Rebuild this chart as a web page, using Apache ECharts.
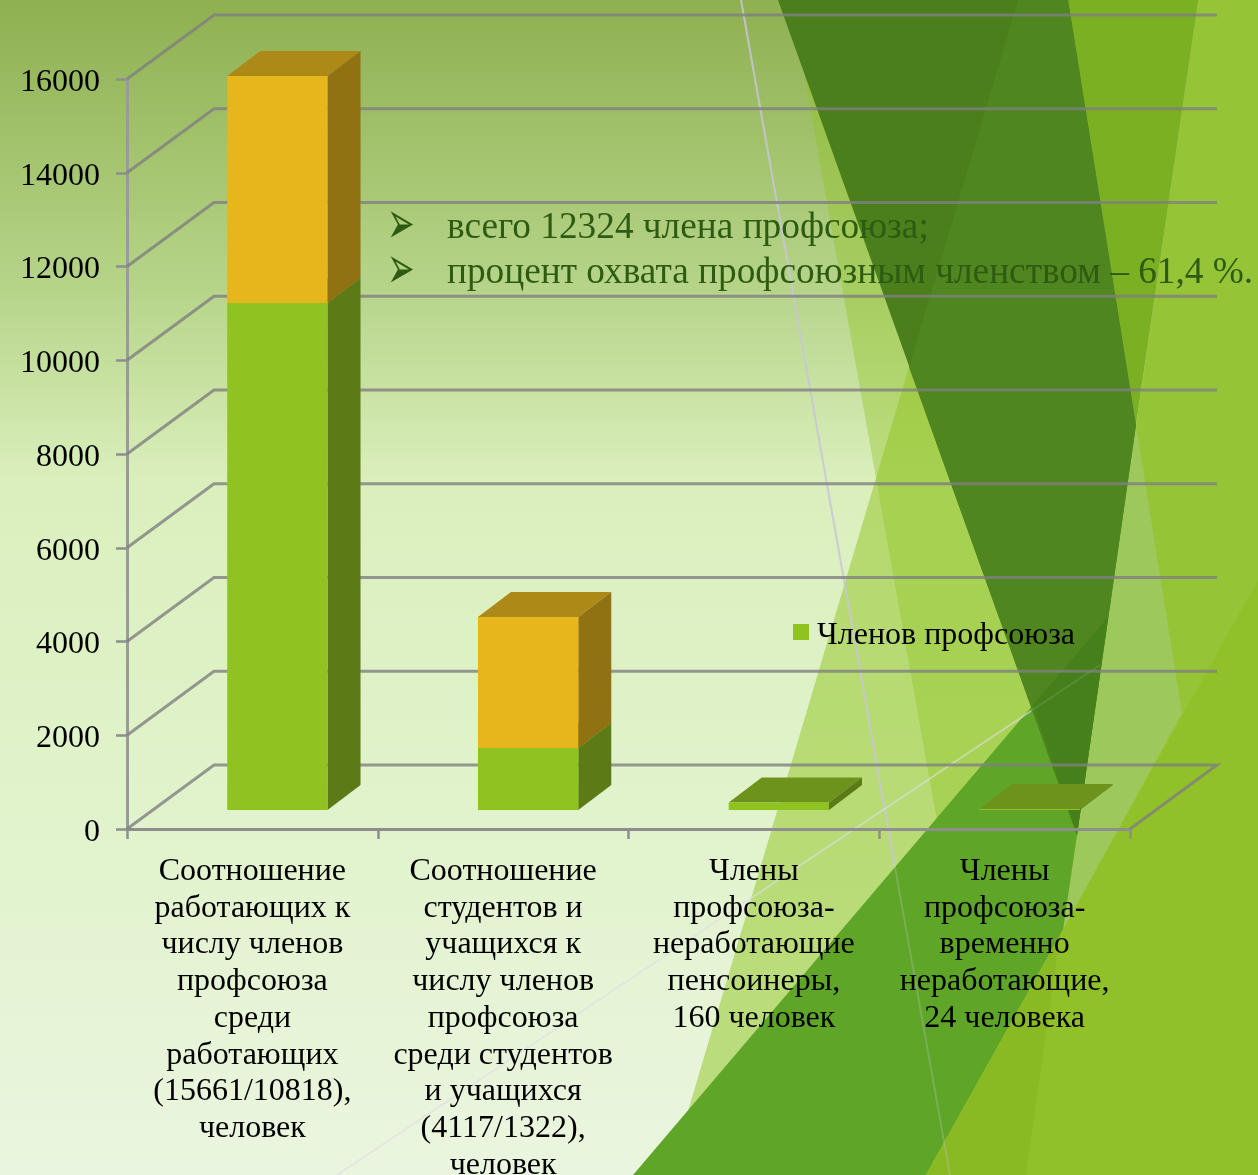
<!DOCTYPE html>
<html>
<head>
<meta charset="utf-8">
<style>
  html, body { margin: 0; padding: 0; background: #fff; }
  #main { width: 1258px; height: 1175px; }
</style>
<script src="https://cdn.jsdelivr.net/npm/echarts@6/dist/echarts.min.js"></script>
</head>
<body>
<div id="main"></div>
<script>
var categories = [
  'Соотношение\nработающих к\nчислу членов\nпрофсоюза\nсреди\nработающих\n(15661/10818),\nчеловек',
  'Соотношение\nстудентов и\nучащихся к\nчислу членов\nпрофсоюза\nсреди студентов\nи учащихся\n(4117/1322),\nчеловек',
  'Члены\nпрофсоюза-\nнеработающие\nпенсоинеры,\n160 человек',
  'Члены\nпрофсоюза-\nвременно\nнеработающие,\n24 человека'
];
var members = [10818, 1322, 160, 24];
var others = [4843, 2795, 0, 0];
var yTicks = [0, 2000, 4000, 6000, 8000, 10000, 12000, 14000, 16000];

var SERIF = '"Liberation Serif", "Times New Roman", serif';
var GRID_LINE = 'rgba(128,128,128,0.8)';

// pseudo 3d: wall depth and where the bars stand on the floor
var WALL_DX = 87, WALL_DY = -64;
var BAR_OFF_X = 25, BAR_OFF_Y = -19;
var BAR_DX = 33, BAR_DY = -25;

function poly(points, color, z) {
  return {
    type: 'polygon',
    silent: true,
    z: z === undefined ? -10 : z,
    shape: { points: points },
    style: { fill: color }
  };
}

function thinLine(x1, y1, x2, y2, color) {
  return {
    type: 'line',
    silent: true,
    z: -9,
    shape: { x1: x1, y1: y1, x2: x2, y2: y2 },
    style: { stroke: color, lineWidth: 2 }
  };
}

function bulletText(x, y, str) {
  return {
    type: 'text',
    silent: true,
    z: 100,
    x: x,
    y: y,
    style: { text: str, fill: '#2e5b12', font: '37.3px ' + SERIF, verticalAlign: 'middle' }
  };
}

function bulletMark(x, y) {
  return {
    type: 'text',
    silent: true,
    z: 100,
    x: x,
    y: y,
    scaleY: 1.8,
    style: { text: '➢', fill: '#2e5b12', font: '33px "DejaVu Sans"', verticalAlign: 'middle' }
  };
}

// theme shapes behind the chart
var backdrop = [
  poly([[791, 0], [1100, 0], [1100, 900], [951, 900]], 'rgba(143,195,31,0.38)'),
  poly([[1018, 0], [1100, 0], [1100, 1175], [669, 1175]], 'rgba(143,195,31,0.5)'),
  poly([[1198, 0], [1258, 0], [1258, 1175], [1027, 1175]], '#95c536'),
  poly([[1136, 425], [1182, 713], [1063, 930], [1077, 835]], '#9cc85c'),
  poly([[633, 1175], [1033, 705], [1077, 835], [1063, 930], [926, 1175]], '#5fa527'),
  poly([[1258, 580], [926, 1175], [1258, 1175]], '#90c128'),
  poly([[926, 1175], [1060, 935], [1026, 1175]], '#89ba24'),
  poly([[1068, 0], [1198, 0], [1136, 425]], '#7ab022'),
  poly([[778, 0], [1068, 0], [1136, 425], [1077, 835]], '#4a7f1c'),
  poly([[1018, 0], [1068, 0], [1136, 425], [1077, 835], [909, 367]], '#50861f'),
  poly([[1033, 705], [1108, 617], [1077, 835]], '#46801b'),
  thinLine(741, 0, 895, 867, 'rgba(200,198,216,0.85)'),
  thinLine(895, 867, 950, 1175, 'rgba(205,205,218,0.25)'),
  thinLine(337, 1175, 1031, 711, 'rgba(222,222,228,0.6)'),
  thinLine(1031, 711, 1100, 665, 'rgba(222,222,228,0.12)')
];

var notes = [
  bulletMark(387, 228),
  bulletText(447, 228, 'всего 12324 члена профсоюза;'),
  bulletMark(387, 273),
  bulletText(447, 273, 'процент охвата профсоюзным членством – 61,4 %.')
];

function renderWall(params, api) {
  var v = api.value(0);
  var x0 = params.coordSys.x;
  var x1 = params.coordSys.x + params.coordSys.width;
  var y = api.coord([0, v])[1];
  var pts = [[x0, y], [x0 + WALL_DX, y + WALL_DY], [x1 + WALL_DX, y + WALL_DY]];
  if (v === 0) {
    pts.push([x1, y]);
  }
  return {
    type: 'polyline',
    shape: { points: pts },
    style: { stroke: GRID_LINE, lineWidth: 3, fill: null }
  };
}

function makeBarRenderer(front, side, top) {
  return function (params, api) {
    var idx = api.value(0);
    var val = api.value(1);
    var base = api.value(2);
    if (!val) {
      return null;
    }
    var w = api.size([1, 0])[0] * 0.4;
    var low = api.coord([idx, base]);
    var high = api.coord([idx, base + val]);
    var l = low[0] + BAR_OFF_X - w / 2;
    var r = l + w;
    var by = low[1] + BAR_OFF_Y;
    var ty = high[1] + BAR_OFF_Y;
    return {
      type: 'group',
      children: [
        {
          type: 'polygon',
          shape: { points: [[l, ty], [r, ty], [r + BAR_DX, ty + BAR_DY], [l + BAR_DX, ty + BAR_DY]] },
          style: { fill: top }
        },
        {
          type: 'polygon',
          shape: { points: [[r, by], [r + BAR_DX, by + BAR_DY], [r + BAR_DX, ty + BAR_DY], [r, ty]] },
          style: { fill: side }
        },
        {
          type: 'rect',
          shape: { x: l, y: ty, width: w, height: by - ty },
          style: { fill: front }
        }
      ]
    };
  };
}

var memberData = [], otherData = [], wallData = [];
for (var i = 0; i < categories.length; i++) {
  memberData.push([i, members[i], 0]);
  otherData.push([i, others[i], members[i]]);
}
for (var j = 0; j < yTicks.length; j++) {
  wallData.push([yTicks[j]]);
}

var chart = echarts.init(document.getElementById('main'), null, { renderer: 'canvas' });

var option = {
  animation: false,
  backgroundColor: {
    type: 'linear', x: 0, y: 0, x2: 0, y2: 1,
    colorStops: [
      { offset: 0, color: '#8eb050' },
      { offset: 0.25, color: '#b7d58a' },
      { offset: 0.41, color: '#dbefbd' },
      { offset: 0.7, color: '#e1f3cc' },
      { offset: 1, color: '#eaf5df' }
    ]
  },
  textStyle: { fontFamily: SERIF },
  graphic: { elements: backdrop.concat(notes) },
  legend: {
    data: ['Членов профсоюза'],
    left: 788,
    top: 615,
    icon: 'rect',
    itemWidth: 16,
    itemHeight: 16,
    formatter: '{t|{name}}',
    textStyle: {
      rich: {
        t: { fontFamily: SERIF, fontSize: 32, color: '#000', padding: [8, 0, 0, 3] }
      }
    }
  },
  grid: { left: 127, top: 79, width: 1003, height: 750, outerBoundsMode: 'none' },
  xAxis: {
    type: 'category',
    data: categories,
    axisLine: { lineStyle: { color: '#8e8e8e', width: 3 } },
    axisTick: { show: true, length: 10, lineStyle: { color: '#8e8e8e', width: 2.5 } },
    axisLabel: {
      interval: 0,
      margin: 24,
      color: '#000',
      fontFamily: SERIF,
      fontSize: 32,
      lineHeight: 36.75,
      hideOverlap: false
    }
  },
  yAxis: {
    type: 'value',
    min: 0,
    max: 16000,
    interval: 2000,
    splitLine: { show: false },
    axisLine: { show: true, lineStyle: { color: '#9a9a9a', width: 3 } },
    axisTick: { show: true, length: 11, lineStyle: { color: '#8e8e8e', width: 2.5 } },
    axisLabel: {
      margin: 27,
      color: '#000',
      fontFamily: SERIF,
      fontSize: 32,
      verticalAlign: 'top',
      lineHeight: 7,
      formatter: function (v) { return String(v); }
    }
  },
  series: [
    {
      name: 'wall',
      type: 'custom',
      z: 1,
      silent: true,
      coordinateSystem: 'cartesian2d',
      renderItem: renderWall,
      encode: { y: 0 },
      data: wallData
    },
    {
      name: 'Членов профсоюза',
      type: 'custom',
      z: 3,
      coordinateSystem: 'cartesian2d',
      renderItem: makeBarRenderer('#90c322', '#5c7b17', '#6e931c'),
      itemStyle: { color: '#90c322' },
      encode: { x: 0, y: 1 },
      data: memberData
    },
    {
      name: 'Остальные',
      type: 'custom',
      z: 4,
      coordinateSystem: 'cartesian2d',
      renderItem: makeBarRenderer('#e6b61c', '#917213', '#ad8a17'),
      itemStyle: { color: '#e6b61c' },
      encode: { x: 0, y: 1 },
      data: otherData
    }
  ]
};

chart.setOption(option);
</script>
</body>
</html>
